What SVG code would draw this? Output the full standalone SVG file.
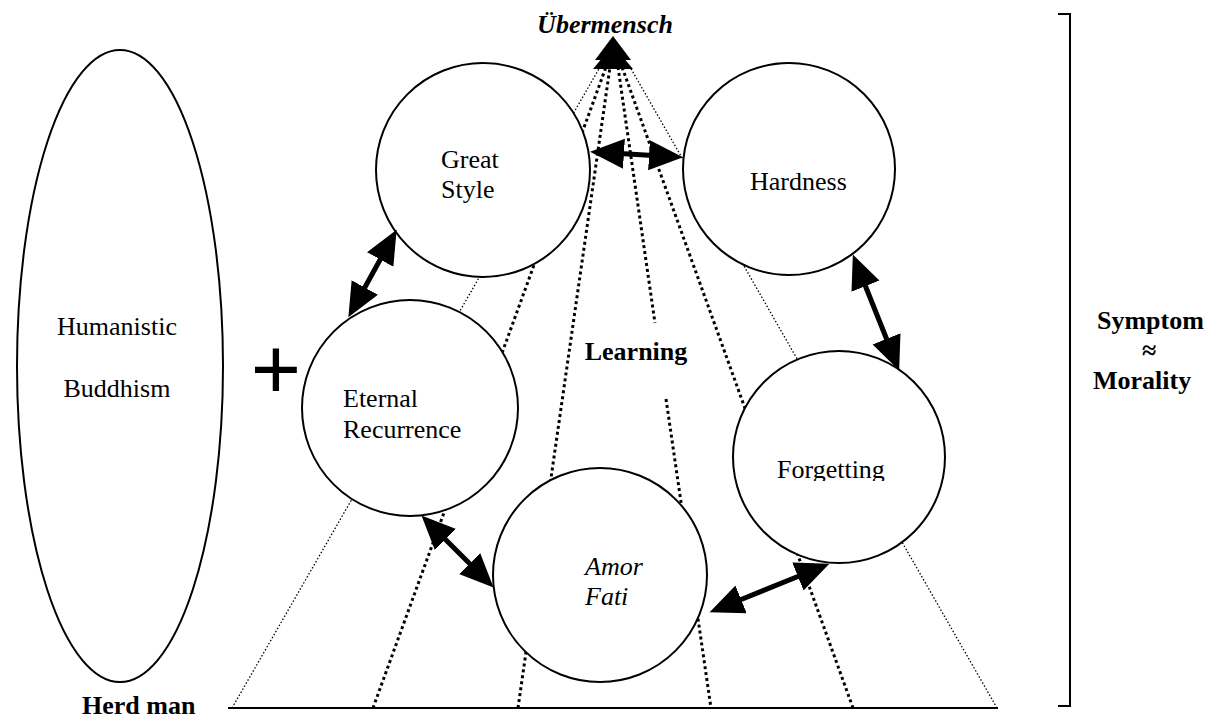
<svg xmlns="http://www.w3.org/2000/svg" width="1209" height="720" viewBox="0 0 1209 720">
<style>
.bg{fill:#fff}
.node{fill:#fff;stroke:#000;stroke-width:2}
.lbl{font-family:"Liberation Serif","Times New Roman",serif;font-size:26px;fill:#000}
.b{font-weight:bold}
.i{font-style:italic}
.thick{stroke:#000;stroke-width:3;stroke-dasharray:3 3;fill:none}
.thin{stroke:#000;stroke-width:1.3;stroke-dasharray:1.5 2;fill:none}
.dbl{stroke:#000;stroke-width:5;fill:none;marker-start:url(#ah);marker-end:url(#ah)}
.solid{stroke:#000;stroke-width:2;fill:none}
</style>
<defs>
<marker id="ah" markerUnits="userSpaceOnUse" markerWidth="36" markerHeight="32" refX="12" refY="15" orient="auto-start-reverse" viewBox="0 0 36 32">
<path d="M0,0 L34,15 L0,30 z" fill="#000"/>
</marker>
<clipPath id="clipF"><rect x="700" y="400" width="300" height="81"/></clipPath>
</defs>
<rect class="bg" x="0" y="0" width="1209" height="720"/>

<g id="connectors">
<line class="thin" x1="232" y1="708" x2="600" y2="67"/>
<line class="thick" x1="373" y1="708" x2="606" y2="67"/>
<line class="thick" x1="518" y1="708" x2="610" y2="67"/>
<line class="thick" x1="618" y1="67" x2="655" y2="323"/>
<line class="thick" x1="666" y1="399" x2="711" y2="708"/>
<line class="thick" x1="853" y1="708" x2="622" y2="67"/>
<line class="thin" x1="997" y1="708" x2="630" y2="67"/>
<path d="M613,36 L595,60 L631,60 z M613,45 L593,69 L633,69 z" fill="#000"/>
<line class="solid" x1="228" y1="708" x2="998" y2="708"/>
</g>

<g id="humanistic-buddhism">
<ellipse class="node" cx="120" cy="366" rx="103" ry="316"/>
<text class="lbl" x="117" y="335" text-anchor="middle">Humanistic</text>
<text class="lbl" x="117" y="397" text-anchor="middle">Buddhism</text>
</g>

<g id="plus">
<text class="lbl b" x="276" y="400" text-anchor="middle" style="font-size:90px">+</text>
</g>

<g id="great-style">
<circle class="node" cx="483" cy="170" r="107"/>
<text class="lbl" x="441" y="168">Great</text>
<text class="lbl" x="441" y="198">Style</text>
</g>

<g id="hardness">
<circle class="node" cx="789" cy="169" r="106"/>
<text class="lbl" x="750" y="190">Hardness</text>
</g>

<g id="eternal-recurrence">
<circle class="node" cx="410" cy="408" r="108"/>
<text class="lbl" x="343" y="407">Eternal</text>
<text class="lbl" x="343" y="438">Recurrence</text>
</g>

<g id="forgetting">
<circle class="node" cx="839" cy="457" r="106"/>
<text class="lbl" x="777" y="478" clip-path="url(#clipF)">Forgetting</text>
</g>

<g id="amor-fati">
<circle class="node" cx="600" cy="575" r="107"/>
<text class="lbl i" x="585" y="575">Amor</text>
<text class="lbl i" x="585" y="605">Fati</text>
</g>

<g id="arrows">
<line class="dbl" x1="612" y1="153" x2="661" y2="156"/>
<line class="dbl" x1="386" y1="249" x2="359" y2="298"/>
<line class="dbl" x1="861" y1="275" x2="891" y2="350"/>
<line class="dbl" x1="437" y1="531" x2="478" y2="572"/>
<line class="dbl" x1="730" y1="604" x2="809" y2="572"/>
</g>

<g id="uebermensch">
<text class="lbl b i" x="605" y="33" text-anchor="middle">Übermensch</text>
</g>

<g id="learning">
<text class="lbl b" x="636" y="360" text-anchor="middle">Learning</text>
</g>

<g id="herd-man">
<text class="lbl b" x="82" y="714">Herd man</text>
</g>

<g id="symptom-morality">
<path class="solid" d="M1058,14 L1070,14 L1070,706 L1058,706" stroke-width="1.5"/>
<text class="lbl b" x="1097" y="329">Symptom</text>
<text class="lbl b" x="1142" y="359">≈</text>
<text class="lbl b" x="1093" y="389">Morality</text>
</g>
</svg>
